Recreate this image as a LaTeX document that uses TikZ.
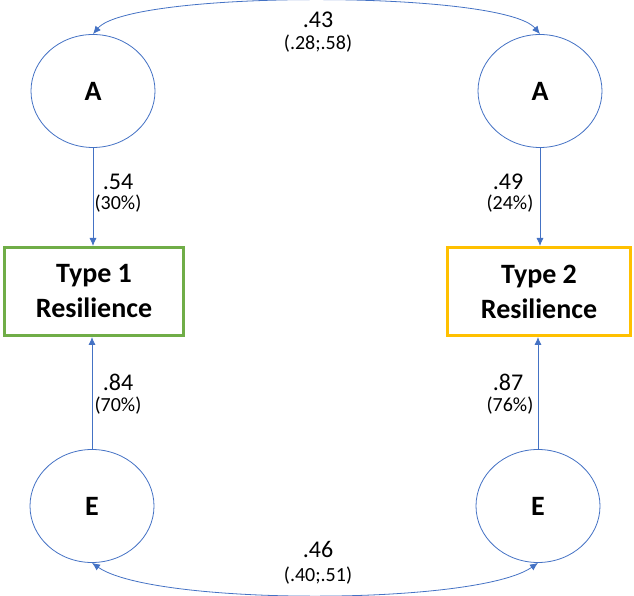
\documentclass[tikz,border=0pt]{standalone}
\usepackage{fontspec}
\setmainfont{Carlito}
\usetikzlibrary{shapes.geometric,arrows.meta}
\definecolor{lineblue}{HTML}{4472C4}
\definecolor{boxgreen}{HTML}{70AD47}
\definecolor{boxyellow}{HTML}{FFC000}
\begin{document}
\begin{tikzpicture}[x=1pt, y=1pt,
    latent/.style={draw=lineblue, ellipse, line width=0.8pt, minimum width=124pt, minimum height=113pt, font=\fontsize{28}{34}\selectfont\bfseries},
    outcome/.style={draw, rectangle, line width=3pt, minimum height=88pt, align=center, font=\fontsize{28}{35}\selectfont\bfseries},
    big/.style={inner sep=0pt, font=\fontsize{24}{28}\selectfont},
    small/.style={inner sep=0pt, font=\fontsize{20}{24}\selectfont},
    link/.style={draw=lineblue, line width=0.8pt, -{Latex[length=8pt,width=7pt]}},
    corr/.style={draw=lineblue, line width=0.8pt, {Latex[length=8pt,width=7pt]}-{Latex[length=8pt,width=7pt]}}]
    \useasboundingbox (0,0) rectangle (634,596);

    \node[latent] (A1) at (93,505) {A};
    \node[latent] (A2) at (540,505) {A};
    \node[outcome, draw=boxgreen, minimum width=179pt] (T1) at (94,304.5) {Type 1\\Resilience};
    \node[outcome, draw=boxyellow, minimum width=183pt] (T2) at (539,304.5) {Type 2\\Resilience};
    \node[latent] (E1) at (92,90) {E};
    \node[latent] (E2) at (538,90) {E};

    \draw[corr] (A1.north) to[out=50, in=130, looseness=0.33] (A2.north);
    \draw[corr] (E1.south) to[out=-35, in=-145, looseness=0.43] (E2.south);
    \draw[link] (A1.south) -- (A1.south |- T1.north);
    \draw[link] (A2.south) -- (A2.south |- T2.north);
    \draw[link] (E1.north) -- (E1.north |- T1.south);
    \draw[link] (E2.north) -- (E2.north |- T2.south);

    \node[big] (rA) at (318,576) {.43};
    \node[small] (rAci) at (318,552) {(.28;.58)};
    \node[big] (rE) at (318,47) {.46};
    \node[small] (rEci) at (318,20) {(.40;.51)};
    \node[big] (a1) at (118,414) {.54};
    \node[small] (a1p) at (118,392) {(30\%)};
    \node[big] (a2) at (508,414) {.49};
    \node[small] (a2p) at (510,392) {(24\%)};
    \node[big] (e1) at (118,214) {.84};
    \node[small] (e1p) at (118,190) {(70\%)};
    \node[big] (e2) at (508,214) {.87};
    \node[small] (e2p) at (510,190) {(76\%)};
\end{tikzpicture}
\end{document}
